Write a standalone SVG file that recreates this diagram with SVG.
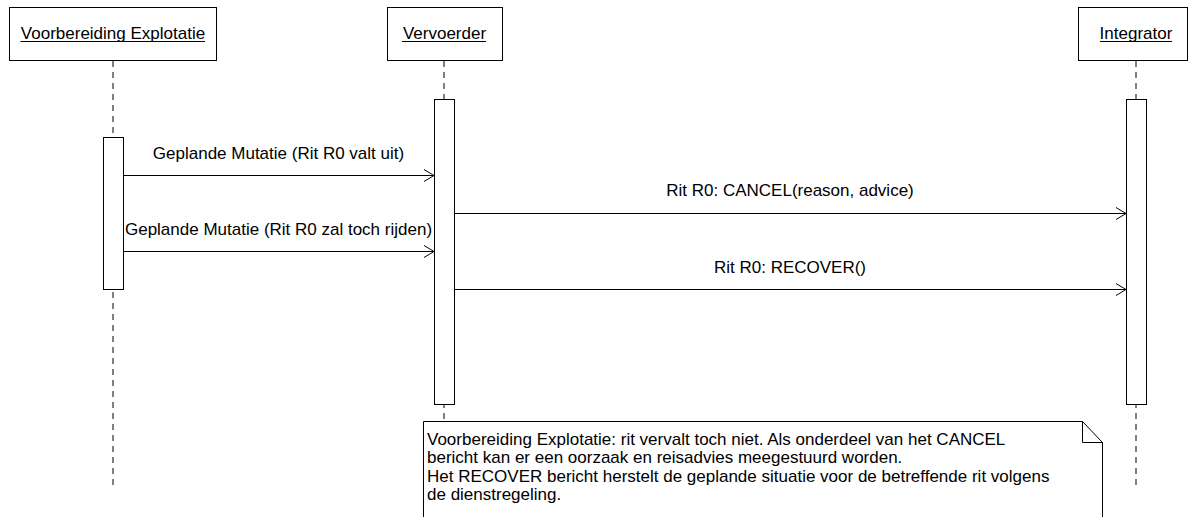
<svg xmlns="http://www.w3.org/2000/svg" width="1188" height="517" viewBox="0 0 1188 517">
<style>
text{font-family:"Liberation Sans",Arial,sans-serif;font-size:17px;fill:#000}
.hdr{fill:#fff;stroke:#000;stroke-width:1}
.life{stroke:#808080;stroke-width:2;stroke-dasharray:6 5;fill:none}
.act{fill:#fff;stroke:#000;stroke-width:1}
.msg{stroke:#000;stroke-width:1;fill:none}
.ul{stroke:#000;stroke-width:1}
</style>
<defs>
<marker id="open" markerWidth="12" markerHeight="14" refX="11" refY="7" orient="auto" markerUnits="userSpaceOnUse">
<path d="M1,1 L11,7 L1,13" fill="none" stroke="#000" stroke-width="1"/>
</marker>
</defs>
<g id="lifelines">
<line class="life" x1="113" y1="61" x2="113" y2="488"/>
<line class="life" x1="444" y1="61" x2="444" y2="421"/>
<line class="life" x1="1136" y1="61" x2="1136" y2="488"/>
</g>
<g id="node-voorbereiding">
<rect class="hdr" x="9.5" y="7.5" width="207" height="53"/>
<text x="113" y="39" text-anchor="middle">Voorbereiding Explotatie</text>
<line class="ul" x1="20.5" y1="41.5" x2="205" y2="41.5"/>
<rect class="act" x="103.5" y="137.5" width="20" height="152"/>
</g>
<g id="node-vervoerder">
<rect class="hdr" x="387.5" y="7.5" width="115" height="53"/>
<text x="444.5" y="39" text-anchor="middle">Vervoerder</text>
<line class="ul" x1="402" y1="41.5" x2="486" y2="41.5"/>
<rect class="act" x="434.5" y="99.5" width="20" height="305"/>
</g>
<g id="node-integrator">
<rect class="hdr" x="1078.5" y="7.5" width="109" height="53"/>
<text x="1136" y="39" text-anchor="middle">Integrator</text>
<line class="ul" x1="1100" y1="41.5" x2="1172" y2="41.5"/>
<rect class="act" x="1126.5" y="99.5" width="20" height="305"/>
</g>
<g id="connectors">
<line class="msg" x1="124" y1="175.5" x2="434" y2="175.5" marker-end="url(#open)"/>
<text x="278.5" y="159" text-anchor="middle">Geplande Mutatie (Rit R0 valt uit)</text>
<line class="msg" x1="455" y1="213.5" x2="1126" y2="213.5" marker-end="url(#open)"/>
<text x="790" y="196" text-anchor="middle">Rit R0: CANCEL(reason, advice)</text>
<line class="msg" x1="124" y1="251.5" x2="434" y2="251.5" marker-end="url(#open)"/>
<text x="278.5" y="235" text-anchor="middle">Geplande Mutatie (Rit R0 zal toch rijden)</text>
<line class="msg" x1="455" y1="289.5" x2="1126" y2="289.5" marker-end="url(#open)"/>
<text x="790" y="273" text-anchor="middle">Rit R0: RECOVER()</text>
</g>
<g id="note">
<path d="M423.5,530 L423.5,421.5 L1082.5,421.5 L1102.5,442.5 L1102.5,530 Z" fill="#fff" stroke="#000" stroke-width="1"/>
<path d="M1082.5,421.5 L1082.5,442.5 L1102.5,442.5" fill="none" stroke="#000" stroke-width="1"/>
<text x="427" y="444.5">Voorbereiding Explotatie: rit vervalt toch niet. Als onderdeel van het CANCEL</text>
<text x="427" y="463">bericht kan er een oorzaak en reisadvies meegestuurd worden.</text>
<text x="427" y="481.5">Het RECOVER bericht herstelt de geplande situatie voor de betreffende rit volgens</text>
<text x="427" y="500">de dienstregeling.</text>
</g>
</svg>
